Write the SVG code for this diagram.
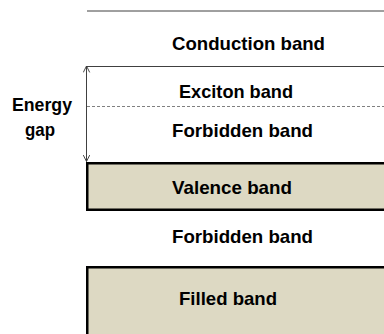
<svg xmlns="http://www.w3.org/2000/svg" width="384" height="334" viewBox="0 0 384 334">
<defs>
<style>
.t{font-family:"Liberation Sans",Arial,sans-serif;font-weight:bold;font-size:18.5px;fill:#000}
.band{fill:#ddd9c3;stroke:#000;stroke-width:2.5}
.ln{stroke:#404040;stroke-width:1;fill:none}
</style>
<marker id="ah" viewBox="0 0 10 10" refX="9" refY="5" markerWidth="8" markerHeight="8" orient="auto-start-reverse" markerUnits="userSpaceOnUse">
<path d="M1,1 L9,5 L1,9" fill="none" stroke="#404040" stroke-width="1.2"/>
</marker>
</defs>
<rect width="384" height="334" fill="#fff"/>
<g id="connectors">
<line class="ln" x1="87" y1="11" x2="384" y2="11"/>
<line class="ln" x1="87" y1="66.5" x2="384" y2="66.5"/>
<line x1="87" y1="106.5" x2="384" y2="106.5" stroke="#808080" stroke-width="1" stroke-dasharray="3,2"/>
<line class="ln" x1="86.5" y1="66" x2="86.5" y2="161.5" marker-start="url(#ah)" marker-end="url(#ah)"/>
</g>
<g id="conduction"><text class="t" x="172" y="49.5" textLength="153" lengthAdjust="spacingAndGlyphs">Conduction band</text></g>
<g id="exciton"><text class="t" x="179" y="97.5" textLength="114" lengthAdjust="spacingAndGlyphs">Exciton band</text></g>
<g id="energy-gap">
<text class="t" x="12" y="111" textLength="60" lengthAdjust="spacingAndGlyphs">Energy</text>
<text class="t" x="25" y="135.5" textLength="30" lengthAdjust="spacingAndGlyphs">gap</text>
</g>
<g id="forbidden1"><text class="t" x="172" y="137" textLength="141" lengthAdjust="spacingAndGlyphs">Forbidden band</text></g>
<g id="valence">
<rect class="band" x="87.25" y="163.25" width="310" height="46.5"/>
<text class="t" x="172" y="193.5" textLength="120" lengthAdjust="spacingAndGlyphs">Valence band</text>
</g>
<g id="forbidden2"><text class="t" x="172" y="243" textLength="141" lengthAdjust="spacingAndGlyphs">Forbidden band</text></g>
<g id="filled">
<rect class="band" x="87.25" y="267.25" width="310" height="80"/>
<text class="t" x="179" y="305" textLength="98" lengthAdjust="spacingAndGlyphs">Filled band</text>
</g>
</svg>
